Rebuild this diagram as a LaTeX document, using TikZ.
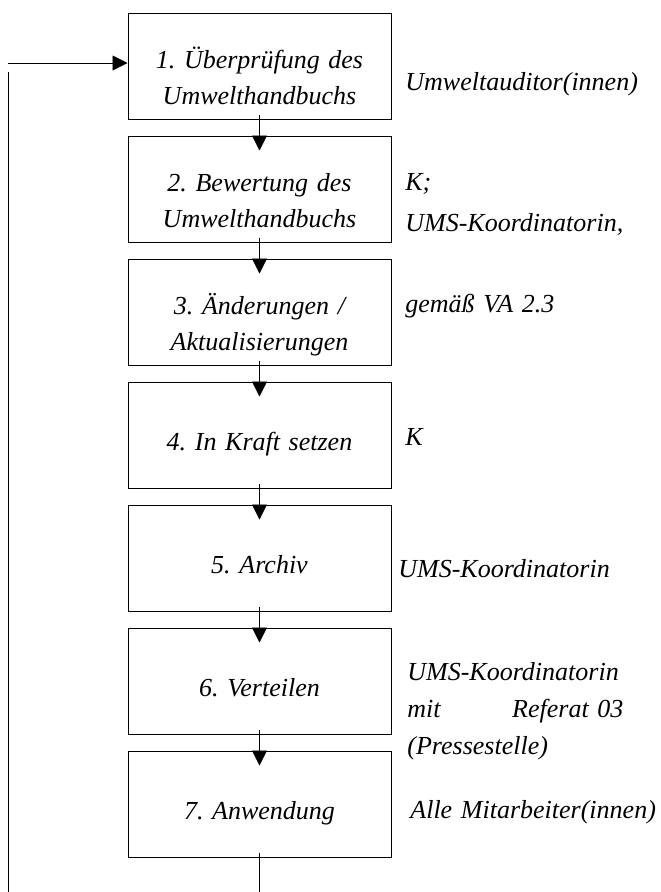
\documentclass[tikz,border=0pt]{standalone}
\usepackage{fontspec}
\setmainfont{Liberation Serif}
\usetikzlibrary{positioning,arrows.meta}
\begin{document}
\begin{tikzpicture}[x=1pt,y=-1pt,node distance=123pt,line width=0.8pt,
 step node/.style={rectangle,draw,line width=1pt,minimum width=263pt,minimum height=106pt,
  text width=250pt,align=center,inner sep=0pt,
  font=\itshape\frenchspacing\fontsize{26pt}{36pt}\selectfont},
 one line/.style={text height=40pt,text depth=10pt},
 two lines/.style={text height=40pt,text depth=36pt},
 note/.style={anchor=base west,inner sep=0pt,align=left,text width=260pt,
  font=\itshape\frenchspacing\fontsize{26pt}{37pt}\selectfont},
 flow/.style={-{Triangle[width=15pt,length=15pt]}}]

  \useasboundingbox (0,0) rectangle (661,892);

  \node[step node,two lines] (1) at (259.5,66) {1. Überprüfung des\\Umwelthandbuchs};
  \node[step node,two lines] (2) [below of=1] {2. Bewertung des\\Umwelthandbuchs};
  \node[step node,two lines] (3) [below of=2] {3. Änderungen /\\Aktualisierungen};
  \node[step node,one line] (4) [below of=3] {4. In Kraft setzen};
  \node[step node,one line] (5) [below of=4] {5. Archiv};
  \node[step node,one line] (6) [below of=5] {6. Verteilen};
  \node[step node,one line] (7) [below of=6] {7. Anwendung};

  \node[note] (a1) at (405,90) {Umweltauditor(innen)};
  \node[note,font=\itshape\fontsize{26pt}{41pt}\selectfont] (a2) at (405,190) {K;\\UMS-Koordinatorin,};
  \node[note] (a3) at (405,312) {gemäß VA 2.3};
  \node[note] (a4) at (405,445) {K};
  \node[note] (a5) at (398,577) {UMS-Koordinatorin};
  \node[note,text width=216pt] (a6) at (407,680) {UMS-Koordinatorin\\mit\hfill Referat 03\\(Pressestelle)};
  \node[note] (a7) at (410,818) {Alle Mitarbeiter(innen)};

  \coordinate (entry) at (8,63);
  \coordinate (up) at (8,72);
  \coordinate (bot) at (8,892);

  \foreach \s/\t in {1/2, 2/3, 3/4, 4/5, 5/6, 6/7} {
   \path[draw,flow] ([yshift=5pt]\s.south) -- ([yshift=-15pt]\t.north);}
  \draw[flow] (entry) -- (1.west |- entry);
  \draw (up) -- (bot);
  \draw ([yshift=5pt]7.south) -- (7.south |- bot);
\end{tikzpicture}
\end{document}
